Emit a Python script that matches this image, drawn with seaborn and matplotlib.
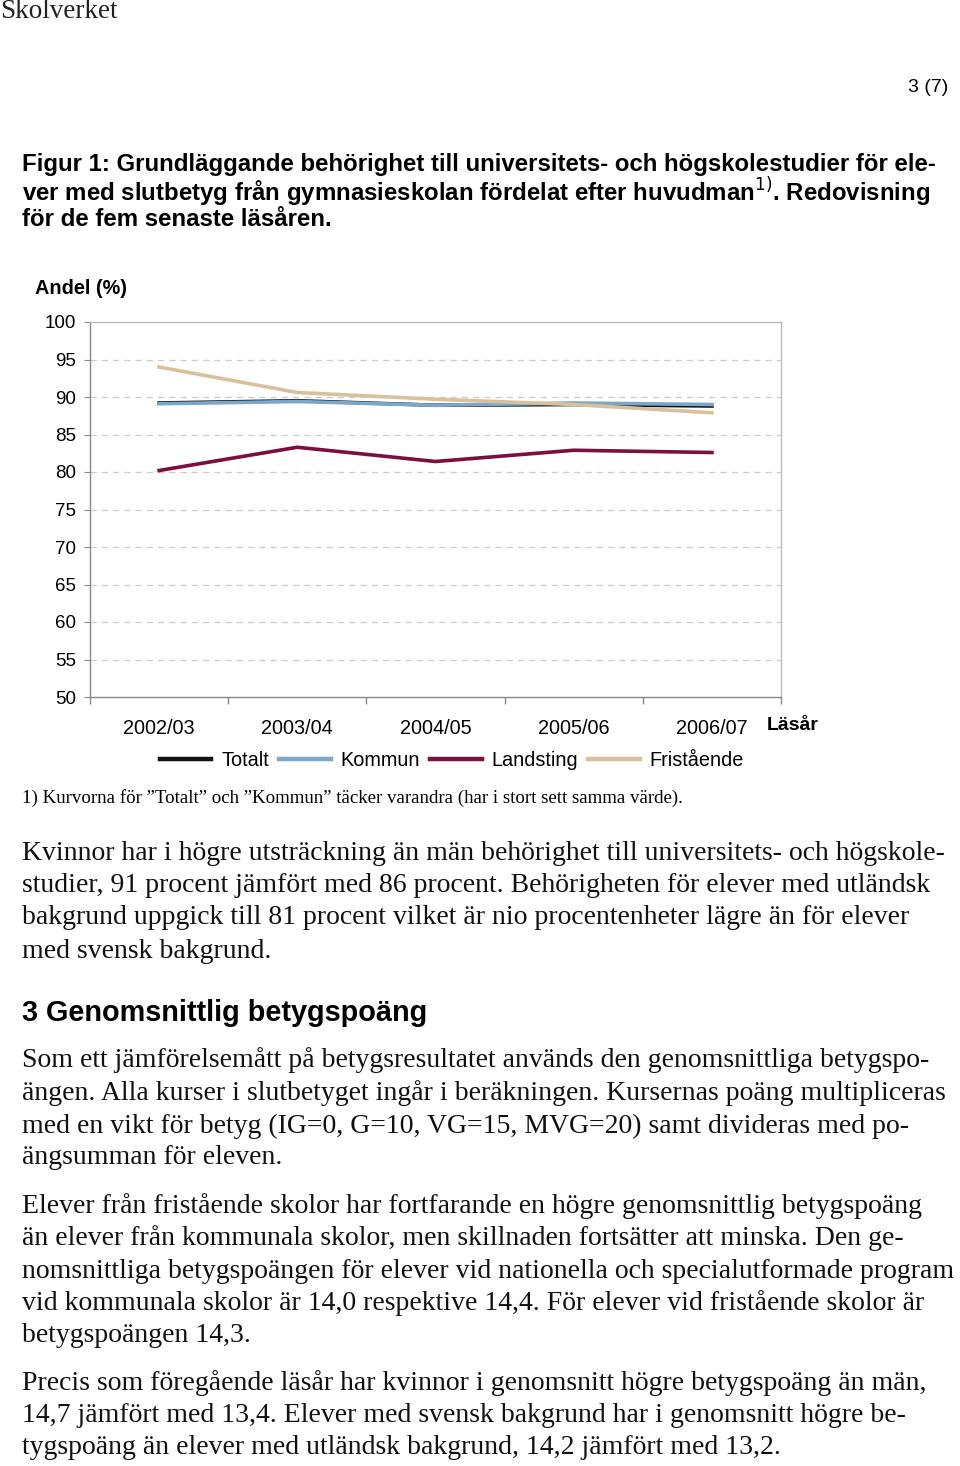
import numpy as np
import pandas as pd
import matplotlib
matplotlib.use('Agg')
import matplotlib.pyplot as plt
import seaborn as sns

# data
years = ['2002/03', '2003/04', '2004/05', '2005/06', '2006/07']
totalt = [89.2, 89.5, 88.9, 89.0, 88.8]
kommun = [89.1, 89.4, 88.9, 89.2, 89.0]
landsting = [80.2, 83.3, 81.4, 82.9, 82.6]
fristaende = [94.0, 90.6, 89.7, 89.0, 87.9]
series = ['Totalt', 'Kommun', 'Landsting', 'Fristående']
colors = ['#111111', '#7ba7cc', '#7b0f3e', '#d9c09c']

df = pd.DataFrame({
    'year': years * 4,
    'value': totalt + kommun + landsting + fristaende,
    'series': [s for s in series for _ in years],
})

W, H = 960, 1466
fig = plt.figure(figsize=(W / 100, H / 100), dpi=100)
fig.patch.set_facecolor('white')

def fy(y):
    return 1 - y / H

def put(x, y, s, **kw):
    kw.setdefault('va', 'center')
    fig.text(x / W, fy(y), s, **kw)

SANS = 'Liberation Sans'
SERIF = 'Liberation Serif'

# page header
put(0, 12, 'Skolverket', family=SERIF, fontsize=19.5, color='#222222')
put(948, 88, '3 (7)', family=SANS, fontsize=14, ha='right')

caption = ['Figur 1: Grundläggande behörighet till universitets- och högskolestudier för ele-',
           'ver med slutbetyg från gymnasieskolan fördelat efter huvudman$^{1)}$. Redovisning',
           'för de fem senaste läsåren.']
for i, line in enumerate(caption):
    put(22, 165 + i * 27.5, line, family=SANS, fontsize=17.3, fontweight='bold')

# chart
ax = fig.add_axes([90 / W, fy(697), 691 / W, 375 / H])
sns.lineplot(data=df, x='year', y='value', hue='series', hue_order=series,
             palette=colors, linewidth=2.6, sort=False, ax=ax, legend=False)
ax.set_xlim(-0.5, 4.5)
ax.set_ylim(50, 100)
ax.set_yticks(np.arange(50, 101, 5))
ax.set_yticklabels([str(v) for v in range(50, 101, 5)], family=SANS, fontsize=13.5)
ax.set_xticks(range(len(years)))
ax.set_xticklabels(years, family=SANS, fontsize=14.3)
ax.set_xticks(np.arange(-0.5, 5, 1), minor=True)
ax.tick_params(axis='x', which='major', length=0, pad=16)
ax.tick_params(axis='x', which='minor', length=5, color='#888888', width=1)
ax.tick_params(axis='y', length=4, color='#888888', pad=6)
ax.set_xlabel('')
ax.set_ylabel('')
for v in range(55, 100, 5):
    ax.axhline(v, color='#cccccc', linestyle=(0, (5, 4)), linewidth=0.9, zorder=0)
for side in ['left', 'bottom']:
    ax.spines[side].set_color('#888888')
for side in ['top', 'right']:
    ax.spines[side].set_color('#bbbbbb')
for sp in ax.spines.values():
    sp.set_linewidth(1)

put(35, 288, 'Andel (%)', family=SANS, fontsize=14.3, fontweight='bold')
put(767, 725, 'Läsår', family=SANS, fontsize=14, fontweight='bold')

handles = [plt.Line2D([], [], color=c, linewidth=3.2) for c in colors]
fig.legend(handles, series, loc='center', bbox_to_anchor=(452 / W, fy(760)), ncol=4,
           frameon=False, handlelength=2.6, columnspacing=0.5, handletextpad=0.5,
           prop={'family': SANS, 'size': 14.3})

put(22, 798, '1) Kurvorna för ”Totalt” och ”Kommun” täcker varandra (har i stort sett samma värde).',
    family=SERIF, fontsize=13.6)

# body text
body = [
    (853, 'Kvinnor har i högre utsträckning än män behörighet till universitets- och högskole-'),
    (886, 'studier, 91 procent jämfört med 86 procent. Behörigheten för elever med utländsk'),
    (918, 'bakgrund uppgick till 81 procent vilket är nio procentenheter lägre än för elever'),
    (951, 'med svensk bakgrund.'),
    (1060, 'Som ett jämförelsemått på betygsresultatet används den genomsnittliga betygspo-'),
    (1093, 'ängen. Alla kurser i slutbetyget ingår i beräkningen. Kursernas poäng multipliceras'),
    (1126, 'med en vikt för betyg (IG=0, G=10, VG=15, MVG=20) samt divideras med po-'),
    (1158, 'ängsumman för eleven.'),
    (1206, 'Elever från fristående skolor har fortfarande en högre genomsnittlig betygspoäng'),
    (1238, 'än elever från kommunala skolor, men skillnaden fortsätter att minska. Den ge-'),
    (1271, 'nomsnittliga betygspoängen för elever vid nationella och specialutformade program'),
    (1303, 'vid kommunala skolor är 14,0 respektive 14,4. För elever vid fristående skolor är'),
    (1336, 'betygspoängen 14,3.'),
    (1383, 'Precis som föregående läsår har kvinnor i genomsnitt högre betygspoäng än män,'),
    (1416, '14,7 jämfört med 13,4. Elever med svensk bakgrund har i genomsnitt högre be-'),
    (1448, 'tygspoäng än elever med utländsk bakgrund, 14,2 jämfört med 13,2.'),
]
for y, line in body:
    put(22, y, line, family=SERIF, fontsize=20, color='#111111')

put(22, 1013, '3 Genomsnittlig betygspoäng', family=SANS, fontsize=20.8, fontweight='bold')

fig.savefig('out.png', dpi=100, facecolor='white')
